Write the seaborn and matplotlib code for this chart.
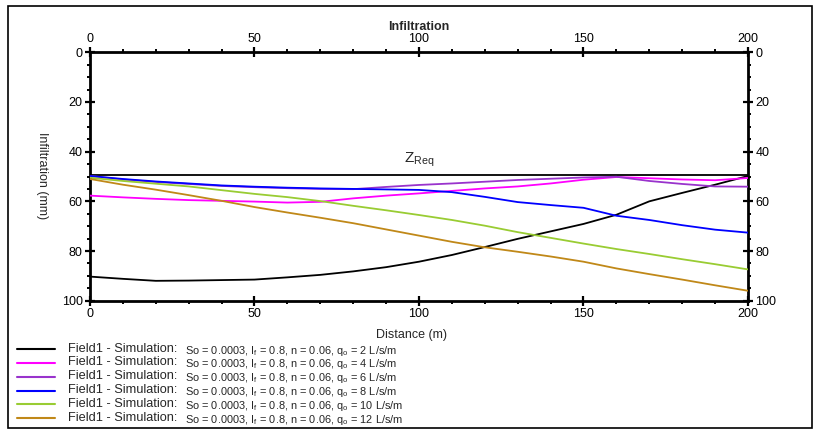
import matplotlib
matplotlib.use("Agg")
import matplotlib.pyplot as plt
from matplotlib.lines import Line2D
from matplotlib.patches import Rectangle
from matplotlib.ticker import MultipleLocator
import numpy as np
import pandas as pd
import seaborn as sns

# Distance along the field (m)
distance = [0, 10, 20, 30, 40, 50, 60, 70, 80, 90, 100,
            110, 120, 130, 140, 150, 160, 170, 180, 190, 200]

# Inflow rates of the six simulations (L/s/m)
inflow_rates = [2, 4, 6, 8, 10, 12]

# Infiltrated depth (mm) for each inflow rate
infil_q2 = [90.3, 91.2, 92.0, 91.9, 91.7, 91.5, 90.6, 89.6, 88.2, 86.5, 84.3,
            81.6, 78.4, 75.1, 72.1, 69.1, 65.4, 60.0, 56.6, 53.3, 49.8]
infil_q4 = [57.7, 58.4, 59.0, 59.5, 59.8, 60.1, 60.5, 60.2, 58.8, 57.7, 56.8,
            55.8, 54.8, 54.0, 52.8, 51.3, 50.2, 50.7, 51.2, 51.5, 50.6]
infil_q6 = [49.8, 51.2, 52.2, 53.0, 53.8, 54.3, 54.7, 55.0, 55.1, 54.2, 53.4,
            52.8, 52.1, 51.4, 50.9, 50.4, 50.1, 51.8, 53.0, 54.0, 54.1]
infil_q8 = [49.8, 51.0, 52.0, 52.8, 53.6, 54.1, 54.5, 54.8, 55.0, 55.2, 55.4,
            56.3, 58.2, 60.3, 61.5, 62.6, 65.8, 67.5, 69.6, 71.4, 72.6]
infil_q10 = [50.5, 51.8, 52.9, 54.0, 55.5, 57.0, 58.3, 59.9, 61.8, 63.6, 65.5,
             67.5, 69.8, 72.4, 74.7, 77.0, 79.2, 81.2, 83.3, 85.3, 87.4]
infil_q12 = [51.0, 53.3, 55.3, 57.5, 59.8, 62.3, 64.5, 66.6, 68.8, 71.3, 73.8,
             76.3, 78.5, 80.3, 82.2, 84.3, 87.0, 89.3, 91.5, 93.8, 96.0]

# Required infiltration depth (mm)
z_req = 49.5

series = [infil_q2, infil_q4, infil_q6, infil_q8, infil_q10, infil_q12]
colors = ["#000000", "#ff00ff", "#9933cc", "#0000ff", "#99cc33", "#c08818"]

sns.set_style("ticks")
plt.rcParams["font.family"] = ["Liberation Sans", "DejaVu Sans"]
plt.rcParams["mathtext.fontset"] = "custom"
plt.rcParams["mathtext.rm"] = "Liberation Sans"

W, H = 820, 432
fig = plt.figure(figsize=(W / 100, H / 100), dpi=100)
fig.patch.set_facecolor("white")


def fx(px):
    return px / W


def fy(py):
    return 1 - py / H


x0, x1, y0, y1 = 90, 748, 52.3, 300.7
ax = fig.add_axes([fx(x0), fy(y1), fx(x1) - fx(x0), fy(y0) - fy(y1)])

labels = [f"q{q}" for q in inflow_rates]
frames = []
for lab, vals in zip(labels, series):
    frames.append(pd.DataFrame({"Distance": distance, "Infiltration": vals, "run": lab}))
df = pd.concat(frames, ignore_index=True)

sns.lineplot(data=df, x="Distance", y="Infiltration", hue="run", hue_order=labels,
             palette=dict(zip(labels, colors)), linewidth=1.3, legend=False,
             ax=ax, zorder=3)

# Required depth line and its label
ax.axhline(z_req, color="black", linewidth=1.3, zorder=2)
ax.text(100, z_req - 2.5, r"Z$_{\mathregular{Req}}$", ha="center", va="bottom",
        fontsize=11)

ax.set_xlim(0, 200)
ax.set_ylim(100, 0)
ax.xaxis.set_major_locator(MultipleLocator(50))
ax.xaxis.set_minor_locator(MultipleLocator(10))
ax.yaxis.set_major_locator(MultipleLocator(20))
ax.yaxis.set_minor_locator(MultipleLocator(5))
ax.set_xlabel("")
ax.set_ylabel("")

for sp in ax.spines.values():
    sp.set_linewidth(2.0)
    sp.set_color("black")

ax.tick_params(which="both", top=True, right=True, labeltop=True, labelright=True,
               colors="black")
ax.tick_params(which="major", direction="inout", length=7.5, width=1.6,
               labelsize=9, pad=1.5)
ax.tick_params(which="minor", direction="out", length=2.5, width=1.4)

# Axis titles
fig.text(fx(419), fy(27.5), "Infiltration", ha="center", va="center",
         fontsize=9, fontweight="bold")
fig.text(fx(412), fy(335), "Distance (m)", ha="center", va="center", fontsize=9)
fig.text(fx(41.5), fy(176), "Infiltration (mm)", ha="center", va="center",
         rotation=270, fontsize=9)

# Legend rows
row_y = [349.3, 362.9, 376.7, 390.6, 404.4, 418.2]
for q, col, ry in zip(inflow_rates, colors, row_y):
    fig.add_artist(Line2D([fx(17), fx(55)], [fy(ry), fy(ry)], color=col,
                          linewidth=1.5, transform=fig.transFigure))
    fig.text(fx(68), fy(ry - 0.5), "Field1 - Simulation:", ha="left", va="center",
             fontsize=9.2)
    fig.text(fx(185), fy(ry + 1.5),
             r"So = 0.0003, I$_{\mathregular{f}}$ = 0.8, n = 0.06, "
             r"q$_{\mathregular{o}}$ = " + f"{q} L/s/m",
             ha="left", va="center", fontsize=7.9)

# Outer frame
fig.add_artist(Rectangle((fx(8), fy(427.5)), fx(812) - fx(8), fy(6) - fy(427.5),
                         transform=fig.transFigure, fill=False,
                         edgecolor="black", linewidth=1.2))

fig.savefig("out.png", dpi=100, facecolor="white")
